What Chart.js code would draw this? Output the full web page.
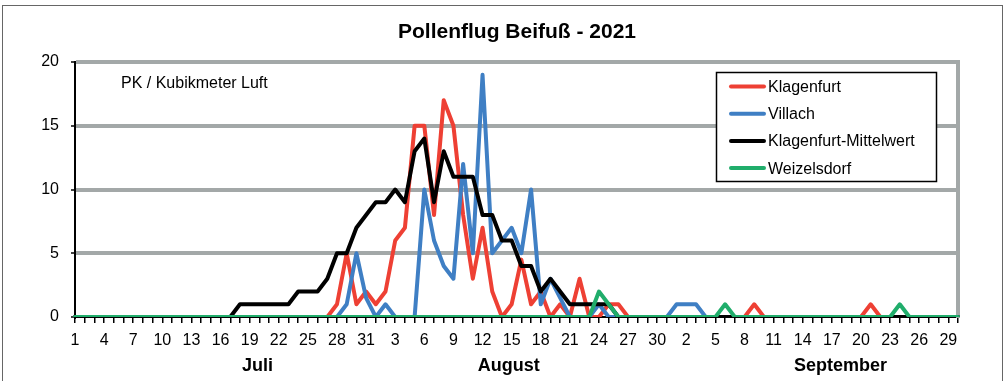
<!DOCTYPE html>
<html><head><meta charset="utf-8">
<script src="https://cdn.jsdelivr.net/npm/chart.js@4/dist/chart.umd.min.js"></script>
<style>
html,body{margin:0;padding:0;background:#fff;overflow:hidden;}
#wrap{position:relative;width:1006px;height:381px;overflow:hidden;}
#frame{position:absolute;left:2px;top:5px;width:1001px;height:420px;border:1px solid #666;box-sizing:border-box;}
canvas{position:absolute;left:0;top:0;}
</style></head><body>
<div id="wrap"><div id="frame"></div><canvas id="c" width="1006" height="381"></canvas></div>
<script>
// Tick labels (days July 1 – Sept 30)
const days = [
 1,2,3,4,5,6,7,8,9,10,11,12,13,14,15,16,17,18,19,20,21,22,23,24,25,26,27,28,29,30,31,
 1,2,3,4,5,6,7,8,9,10,11,12,13,14,15,16,17,18,19,20,21,22,23,24,25,26,27,28,29,30,31,
 1,2,3,4,5,6,7,8,9,10,11,12,13,14,15,16,17,18,19,20,21,22,23,24,25,26,27,28,29,30
];
const monthNames = ['Juli', 'August', 'September'];
const yTicks = [0, 5, 10, 15, 20];
const seriesNames = ['Klagenfurt', 'Villach', 'Klagenfurt-Mittelwert', 'Weizelsdorf'];

const klagenfurt = [
 0,0,0,0,0,0,0,0,0,0,0,0,0,0,0,0,0,0,0,0,0,0,0,0,0,0,0,1,5,1,2,
 1,2,6,7,15,15,8,17,15,8,3,7,2,0,1,4.5,1,2,0,1,0,3,0,0,1,1,0,0,0,0,0,
 0,0,0,0,0,0,0,0,1,0,0,0,0,0,0,0,0,0,0,0,1,0,0,0,0,0,0,0,0,0
];
const villach = [
 0,0,0,0,0,0,0,0,0,0,0,0,0,0,0,0,0,0,0,0,0,0,0,0,0,0,0,0,1,5,1.5,
 0,1,0,0,0,10,6,4,3,12,5,19,5,6,7,5,10,1,3,1.5,0,0,0,1,0,0,0,0,0,0,0,
 1,1,1,0,0,0,0,0,0,0,0,0,0,0,0,0,0,0,0,0,0,0,0,0,0,0,0,0,0,0
];
const mittelwert = [
 0,0,0,0,0,0,0,0,0,0,0,0,0,0,0,0,0,1,1,1,1,1,1,2,2,2,3,5,5,7,8,
 9,9,10,9,13,14,9,13,11,11,11,8,8,6,6,4,4,2,3,2,1,1,1,1,1,0,0,0,0,0,0,
 0,0,0,0,0,0,0,0,0,0,0,0,0,0,0,0,0,0,0,0,0,0,0,0,0,0,0,0,0,0
];
const weizelsdorf = [
 0,0,0,0,0,0,0,0,0,0,0,0,0,0,0,0,0,0,0,0,0,0,0,0,0,0,0,0,0,0,0,
 0,0,0,0,0,0,0,0,0,0,0,0,0,0,0,0,0,0,0,0,0,0,0,2,1,0,0,0,0,0,0,
 0,0,0,0,0,1,0,0,0,0,0,0,0,0,0,0,0,0,0,0,0,0,0,1,0,0,0,0,0,0
];

const FONT = '"Liberation Sans", Arial, sans-serif';
const RED = '#ee4034', BLUE = '#3f7fc4', GREEN = '#20ad6b', BLACK = '#000000', GRID = '#a3a8a8';
const monthTickPos = [18.8, 44.7, 78.9];

const legendPlugin = {
  id: 'boxLegend',
  afterDraw(chart) {
    const ctx = chart.ctx;
    ctx.save();
    ctx.fillStyle = '#fff';
    ctx.fillRect(716, 72, 221, 110);
    ctx.strokeStyle = '#000';
    ctx.lineWidth = 1.5;
    ctx.strokeRect(716.5, 72.5, 220, 109);
    ctx.font = '16px ' + FONT;
    ctx.textBaseline = 'middle';
    ctx.textAlign = 'left';
    chart.data.datasets.forEach((ds, i) => {
      const y = 86.5 + i * 27.2;
      ctx.strokeStyle = ds.borderColor;
      ctx.lineWidth = 4;
      ctx.lineCap = 'round';
      ctx.beginPath(); ctx.moveTo(731, y); ctx.lineTo(764, y); ctx.stroke();
      ctx.fillStyle = '#000';
      ctx.fillText(ds.label, 768, y + 1);
    });
    ctx.restore();
  }
};
const notePlugin = {
  id: 'note',
  afterDraw(chart) {
    const ctx = chart.ctx;
    ctx.save();
    ctx.font = '16px ' + FONT;
    ctx.fillStyle = '#000';
    ctx.textBaseline = 'middle';
    ctx.fillText('PK / Kubikmeter Luft', 121, 84);
    ctx.restore();
  }
};

new Chart(document.getElementById('c'), {
  type: 'line',
  data: {
    labels: days,
    datasets: [
      { label: seriesNames[0], data: klagenfurt, borderColor: RED, order: 3 },
      { label: seriesNames[1], data: villach, borderColor: BLUE, order: 2 },
      { label: seriesNames[2], data: mittelwert, borderColor: BLACK, order: 1 },
      { label: seriesNames[3], data: weizelsdorf, borderColor: GREEN, order: 0 }
    ]
  },
  options: {
    responsive: false, animation: false, devicePixelRatio: 1,
    layout: { padding: { left: 28, right: 0, top: 0, bottom: 0 } },
    elements: {
      line: { borderWidth: 4, tension: 0, borderJoinStyle: 'round', borderCapStyle: 'round', fill: false },
      point: { radius: 0, hoverRadius: 0 }
    },
    plugins: {
      legend: { display: false },
      tooltip: { enabled: false },
      title: { display: true, text: 'Pollenflug Beifuß - 2021', color: '#000',
               font: { family: FONT, size: 21, weight: 'bold' }, padding: { top: 20, bottom: 16.8 } }
    },
    scales: {
      x: {
        type: 'category', position: 'bottom', weight: 0, offset: false,
        grid: { display: true, drawOnChartArea: false, drawTicks: true, tickLength: 6, color: '#000', lineWidth: 1.5 },
        border: { display: true, color: '#000', width: 2 },
        ticks: { autoSkip: false, maxRotation: 0, minRotation: 0, padding: 8, color: '#000',
                 font: { family: FONT, size: 16 }, callback: (v, i) => (i % 3 === 0 ? String(days[i]) : '') },
        afterFit: s => { s.height = 37; }
      },
      xm: {
        type: 'linear', position: 'bottom', weight: 1, min: 0, max: days.length - 1,
        grid: { display: false, drawTicks: false, tickLength: 0 },
        border: { display: false },
        afterBuildTicks: s => { s.ticks = monthTickPos.map(v => ({ value: v })); },
        ticks: { autoSkip: false, maxRotation: 0, minRotation: 0, padding: 1, color: '#000',
                 font: { family: FONT, size: 18, weight: 'bold' }, callback: (v, i) => monthNames[i] },
        afterFit: s => { s.height = 27; }
      },
      y: {
        position: 'left', min: yTicks[0], max: yTicks[yTicks.length - 1],
        afterBuildTicks: s => { s.ticks = yTicks.map(v => ({ value: v })); },
        ticks: { padding: 12, color: '#000', font: { family: FONT, size: 16 } },
        grid: { color: c => (c.tick && c.tick.value === 0 ? 'rgba(0,0,0,0)' : GRID), lineWidth: 4,
                tickLength: 4, tickColor: '#000', tickWidth: 1.5 },
        border: { display: true, color: '#000', width: 2 },
        afterFit: s => { s.width = 47; }
      },
      yr: {
        type: 'linear', position: 'right', display: true,
        ticks: { display: false },
        grid: { display: false, drawTicks: false, tickLength: 0 },
        border: { display: true, color: GRID, width: 4 },
        afterFit: s => { s.width = 48; }
      }
    }
  },
  plugins: [legendPlugin, notePlugin]
});
</script>
</body></html>
